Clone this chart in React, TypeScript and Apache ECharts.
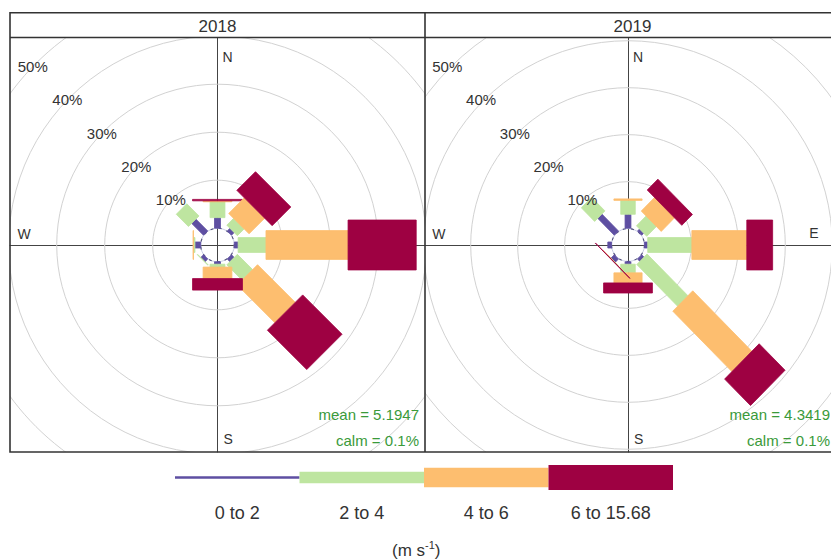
import { useEffect, useRef } from "react";
import * as echarts from "echarts";

// Wind rose by year: frequency (%) of each speed bin per direction
const years = ["2018", "2019"];
const directions = [0, 45, 90, 135, 180, 225, 270, 315]; // N, NE, E, SE, S, SW, W, NW
const speedBins = ["0 to 2", "2 to 4", "4 to 6", "6 to 15.68"];

const freq2018_0to2 = [2.2, 0.8, 0.8, 0.8, 0.5, 0.8, 1.2, 3.5];
const freq2018_2to4 = [3.3, 2.0, 5.8, 4.5, 0.6, 0.1, 0.3, 3.6];
const freq2018_4to6 = [0.2, 4.6, 17.1, 11.1, 2.4, 0, 0.1, 0];
const freq2018_6plus = [0.3, 5.5, 14.2, 11.6, 2.4, 0, 0, 0];

const freq2019_0to2 = [2.9, 0.6, 0.7, 0.7, 0.5, 1.0, 0.8, 5.0];
const freq2019_2to4 = [2.9, 2.9, 9.4, 12.3, 1.8, 0.05, 0, 4.0];
const freq2019_4to6 = [0.3, 4.0, 11.7, 17.8, 2.1, 0.05, 0, 0];
const freq2019_6plus = [0, 3.2, 5.5, 7.8, 2.1, 0.05, 0, 0];

const meanSpeed = ["5.1947", "4.3419"];
const calmPct = ["0.1", "0.1"];
const ringLevels = [10, 20, 30, 40, 50];
const compassLabels = ["N", "E", "S", "W"];

// drawing constants
const OFFSET = 3.5; // radius of the calm circle, in % units
const BAR_WIDTHS = [1.25, 3.1, 6.0, 10.4]; // bar widths per bin, in % units
const BIN_COLORS = ["#5E4FA2", "#BEE5A0", "#FDBE6F", "#9E0142"];
const LEGEND_THICK = [2.5, 11.5, 19.5, 25];
const FONT = "Liberation Sans, Arial, sans-serif";
const HALF_X = 43.23;
const HALF_Y = 43.125;

const yearBins = [
  [freq2018_0to2, freq2018_2to4, freq2018_4to6, freq2018_6plus],
  [freq2019_0to2, freq2019_2to4, freq2019_4to6, freq2019_6plus],
];

function barData(bins: number[][]) {
  const out: number[][] = [];
  directions.forEach((dir, di) => {
    let cum = 0;
    bins.forEach((arr, bi) => {
      const v = arr[di];
      if (v > 0) out.push([dir, cum, cum + v, BAR_WIDTHS[bi], bi]);
      cum += v;
    });
  });
  return out;
}

const LABEL_BEARING = (314 * Math.PI) / 180;

export default function App() {
  const ref = useRef<HTMLDivElement>(null);
  useEffect(() => {
    if (!ref.current) return;
    const chart = echarts.init(ref.current, undefined, { renderer: "svg" });
    const panels = [
      { left: 10, center: 217.5, statRight: 419 },
      { left: 425, center: 632.5, statRight: 830 },
    ];

    const series: any[] = [];
    years.forEach((_, i) => {
      const axes = { xAxisIndex: i, yAxisIndex: i };
      // rings
      series.push({
        type: "custom",
        ...axes,
        clip: true,
        z: 1,
        data: ringLevels.map((v) => [v, 0]),
        renderItem: (_p: any, api: any) => {
          const c = api.coord([0, 0]);
          const r = api.size([OFFSET + api.value(0), 0])[0];
          return {
            type: "circle",
            shape: { cx: c[0], cy: c[1], r },
            style: { fill: "none", stroke: "#d2d2d2", lineWidth: 1 },
          };
        },
      });
      // compass letters
      series.push({
        type: "custom",
        ...axes,
        z: 1,
        data: compassLabels.map((_l, k) => [k * 90, 0]),
        renderItem: (p: any, api: any) => {
          const k = p.dataIndex;
          const pos = [
            { d: [0, 39.2], dx: 5, dy: 0, align: "left" },
            { d: [39.6, 0], dx: 0, dy: -12, align: "center" },
            { d: [0, -40.4], dx: 6, dy: 0, align: "left" },
            { d: [-40.3, 0], dx: 0, dy: -11, align: "center" },
          ][k];
          const c = api.coord(pos.d);
          return {
            type: "text",
            x: c[0] + pos.dx,
            y: c[1] + pos.dy,
            style: {
              text: compassLabels[k],
              fill: "#333",
              fontSize: 14,
              fontFamily: FONT,
              align: pos.align,
              textAlign: pos.align,
              verticalAlign: "middle",
              textVerticalAlign: "middle",
            },
          };
        },
      });
      // calm circle
      series.push({
        type: "custom",
        ...axes,
        z: 2,
        data: [[OFFSET, 0]],
        renderItem: (_p: any, api: any) => {
          const c = api.coord([0, 0]);
          const r = api.size([api.value(0), 0])[0];
          return {
            type: "group",
            children: [
              {
                type: "circle",
                shape: { cx: c[0], cy: c[1], r },
                style: { fill: "none", stroke: "#c9cde6", lineWidth: 1 },
              },
              {
                type: "circle",
                shape: { cx: c[0], cy: c[1], r },
                style: { fill: "none", stroke: "#50507a", lineWidth: 1.1, lineDash: [3, 5] },
              },
            ],
          };
        },
      });
      // bars
      series.push({
        type: "custom",
        ...axes,
        z: 3,
        clip: true,
        data: barData(yearBins[i]),
        renderItem: (_p: any, api: any) => {
          const dir = (api.value(0) * Math.PI) / 180;
          const r0 = OFFSET + api.value(1);
          const r1 = OFFSET + api.value(2);
          const hw = api.value(3) / 2;
          const s = Math.sin(dir);
          const c = Math.cos(dir);
          const pts = [
            [r0 * s - hw * c, r0 * c + hw * s],
            [r1 * s - hw * c, r1 * c + hw * s],
            [r1 * s + hw * c, r1 * c - hw * s],
            [r0 * s + hw * c, r0 * c - hw * s],
          ].map((pt) => api.coord(pt));
          const col = BIN_COLORS[api.value(4)];
          return {
            type: "polygon",
            shape: { points: pts },
            style: { fill: col, stroke: col, lineWidth: 0.8 },
          };
        },
      });
      // ring labels
      series.push({
        type: "custom",
        ...axes,
        z: 4,
        data: ringLevels.map((v) => [v, 0]),
        renderItem: (_p: any, api: any) => {
          const v = api.value(0);
          const r = OFFSET + v;
          const c = api.coord([r * Math.sin(LABEL_BEARING), r * Math.cos(LABEL_BEARING)]);
          return {
            type: "text",
            x: c[0],
            y: c[1],
            style: {
              text: `${v}%`,
              fill: "#333",
              fontSize: 15,
              fontFamily: FONT,
              align: "center",
              textAlign: "center",
              verticalAlign: "middle",
              textVerticalAlign: "middle",
            },
          };
        },
      });
    });

    const graphic: any[] = [];
    // panel frames and strip headers
    graphic.push({
      type: "rect",
      shape: { x: 10, y: 12.7, width: 830, height: 439.3 },
      style: { fill: "none", stroke: "#333", lineWidth: 1.6 },
      z: 10,
    });
    graphic.push({
      type: "line",
      shape: { x1: 10, y1: 37.5, x2: 840, y2: 37.5 },
      style: { stroke: "#333", lineWidth: 1.6 },
      z: 10,
    });
    graphic.push({
      type: "line",
      shape: { x1: 425, y1: 12.7, x2: 425, y2: 452 },
      style: { stroke: "#333", lineWidth: 1.6 },
      z: 10,
    });
    years.forEach((yr, i) => {
      const p = panels[i];
      graphic.push({
        type: "text",
        x: p.center,
        y: 26,
        style: {
          text: yr,
          fill: "#333",
          fontSize: 17,
          fontFamily: FONT,
          textAlign: "center",
          align: "center",
          textVerticalAlign: "middle",
          verticalAlign: "middle",
        },
        z: 10,
      });
      [`mean = ${meanSpeed[i]}`, `calm = ${calmPct[i]}%`].forEach((t, k) => {
        graphic.push({
          type: "text",
          x: p.statRight,
          y: k === 0 ? 414 : 440,
          style: {
            text: t,
            fill: "#3a9a3a",
            fontSize: 15,
            fontFamily: FONT,
            textAlign: "right",
            align: "right",
            textVerticalAlign: "middle",
            verticalAlign: "middle",
          },
          z: 10,
        });
      });
    });
    // speed legend
    const legLeft = 175;
    const legSeg = 124.5;
    const legMid = 477.5;
    speedBins.forEach((lab, k) => {
      const th = LEGEND_THICK[k];
      graphic.push({
        type: "rect",
        shape: { x: legLeft + k * legSeg, y: legMid - th / 2, width: legSeg, height: th },
        style: { fill: BIN_COLORS[k] },
      });
      graphic.push({
        type: "text",
        x: legLeft + (k + 0.5) * legSeg,
        y: 512.5,
        style: {
          text: lab,
          fill: "#333",
          fontSize: 18,
          fontFamily: FONT,
          textAlign: "center",
          align: "center",
          textVerticalAlign: "middle",
          verticalAlign: "middle",
        },
      });
    });
    graphic.push({
      type: "text",
      x: 392,
      y: 549,
      style: {
        text: "{a|(m s}{b|-1}{a|)}",
        fill: "#333",
        fontFamily: FONT,
        textAlign: "left",
        align: "left",
        textVerticalAlign: "middle",
        verticalAlign: "middle",
        rich: {
          a: { fontSize: 17, fontFamily: FONT, fill: "#333", lineHeight: 20, verticalAlign: "bottom" },
          b: { fontSize: 11, fontFamily: FONT, fill: "#333", lineHeight: 20, verticalAlign: "top" },
        },
      },
    });

    const axisCommon = {
      type: "value",
      axisTick: { show: false },
      axisLabel: { show: false },
      splitLine: { show: false },
      axisLine: { show: true, onZero: true, lineStyle: { color: "#444", width: 1 } },
    };

    chart.setOption({
      animation: false,
      backgroundColor: "#fff",
      grid: panels.map((p) => ({ left: p.left, top: 38, width: 415, height: 414, containLabel: false })),
      xAxis: panels.map((_, i) => ({ ...axisCommon, gridIndex: i, min: -HALF_X, max: HALF_X })),
      yAxis: panels.map((_, i) => ({ ...axisCommon, gridIndex: i, min: -HALF_Y, max: HALF_Y })),
      series,
      graphic,
    });
    return () => chart.dispose();
  }, []);
  return (
    <div
      ref={ref}
      style={{ position: "absolute", left: 0, top: 0, width: 831, height: 560 }}
    />
  );
}
